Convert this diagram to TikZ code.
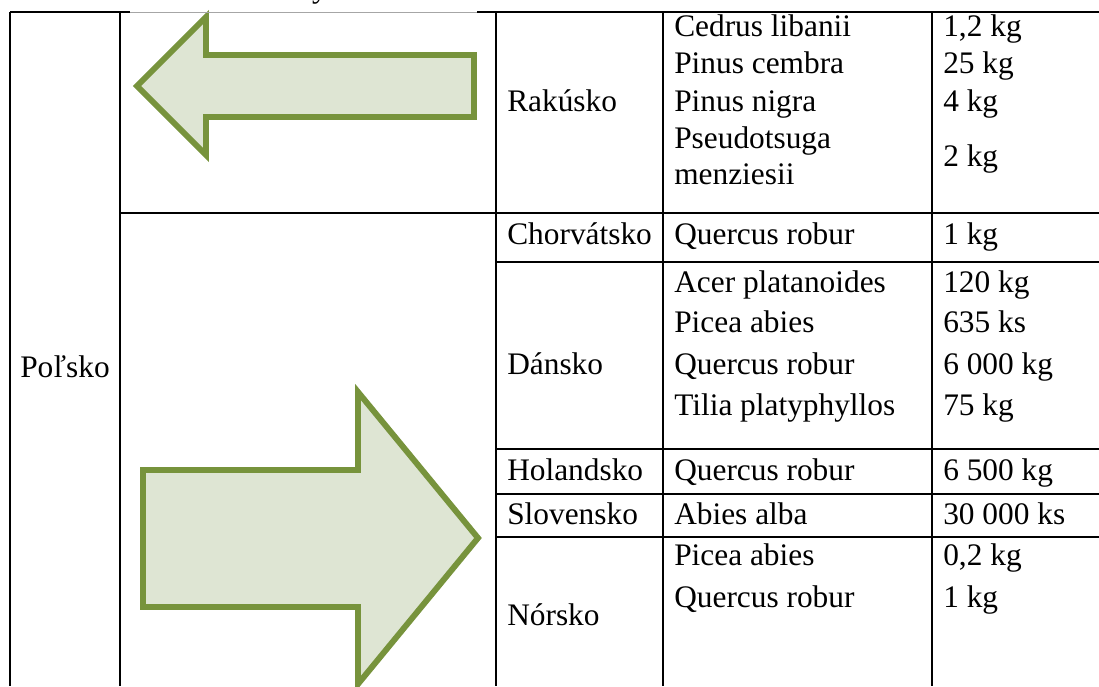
\documentclass[tikz,border=0pt]{standalone}
\usepackage{fontspec}
\setmainfont{Liberation Serif}
\usetikzlibrary{positioning}

\definecolor{olive}{RGB}{119,147,60}
\definecolor{palegreen}{RGB}{222,229,211}

\begin{document}
\begin{tikzpicture}[
  x=0.025cm, y=-0.025cm,
  rule/.style={line width=1.4pt, black},
  bigarrow/.style={draw=olive, fill=palegreen, line width=4.2pt, line join=miter},
  txt/.style={anchor=base west, inner sep=0pt, font=\fontsize{22.3}{26}\selectfont},
]
\useasboundingbox (0,0) rectangle (1099,686);

% arrows
\draw[bigarrow] (137,86) -- (206,17) -- (206,55) -- (474,55) -- (474,117)
  -- (206,117) -- (206,155) -- cycle;
\draw[bigarrow] (143,470) -- (358,470) -- (358,392) -- (478,538) -- (358,684)
  -- (358,607) -- (143,607) -- cycle;

% grid
\draw[rule] (10,12) -- (130,12);
\draw[gray!70, line width=0.5pt] (130,12) -- (477,12);
\draw[rule] (477,12) -- (1099,12);
\foreach \x in {10,120,496,663,932}
  \draw[rule] (\x,12) -- (\x,686);
\draw[rule] (120,213) -- (1099,213);
\foreach \y in {262,449,494,537}
  \draw[rule] (496,\y) -- (1099,\y);

% cut-off caption
\node[txt, anchor=base] (cap) at (320,-3) {y};

% countries
\node[txt, anchor=base] (pl) at (65,377) {Poľsko};
\node[txt] (at) at (507,111) {Rakúsko};
\node[txt] (hr) at (507,244) {Chorvátsko};
\node[txt] (dk) at (507,374) {Dánsko};
\node[txt] (nl) at (507,480) {Holandsko};
\node[txt] (sk) at (507,524) {Slovensko};
\node[txt] (no) at (507,625) {Nórsko};

% species
\node[txt] (at1) at (674,36) {Cedrus libanii};
\node[txt] (at2) at (674,73) {Pinus cembra};
\node[txt] (at3) at (674,111) {Pinus nigra};
\node[txt] (at4) at (674,148) {Pseudotsuga};
\node[txt] (at5) at (674,184) {menziesii};
\node[txt] (hr1) at (674,244) {Quercus robur};
\node[txt] (dk1) at (674,292) {Acer platanoides};
\node[txt] (dk2) at (674,332) {Picea abies};
\node[txt] (dk3) at (674,374) {Quercus robur};
\node[txt] (dk4) at (674,415) {Tilia platyphyllos};
\node[txt] (nl1) at (674,480) {Quercus robur};
\node[txt] (sk1) at (674,524) {Abies alba};
\node[txt] (no1) at (674,565) {Picea abies};
\node[txt] (no2) at (674,607) {Quercus robur};

% amounts
\node[txt] (at1v) at (943,36) {1,2 kg};
\node[txt] (at2v) at (943,73) {25 kg};
\node[txt] (at3v) at (943,111) {4 kg};
\node[txt] (at4v) at (943,166) {2 kg};
\node[txt] (hr1v) at (943,244) {1 kg};
\node[txt] (dk1v) at (943,292) {120 kg};
\node[txt] (dk2v) at (943,332) {635 ks};
\node[txt] (dk3v) at (943,374) {6 000 kg};
\node[txt] (dk4v) at (943,415) {75 kg};
\node[txt] (nl1v) at (943,480) {6 500 kg};
\node[txt] (sk1v) at (943,524) {30 000 ks};
\node[txt] (no1v) at (943,565) {0,2 kg};
\node[txt] (no2v) at (943,607) {1 kg};
\end{tikzpicture}
\end{document}
